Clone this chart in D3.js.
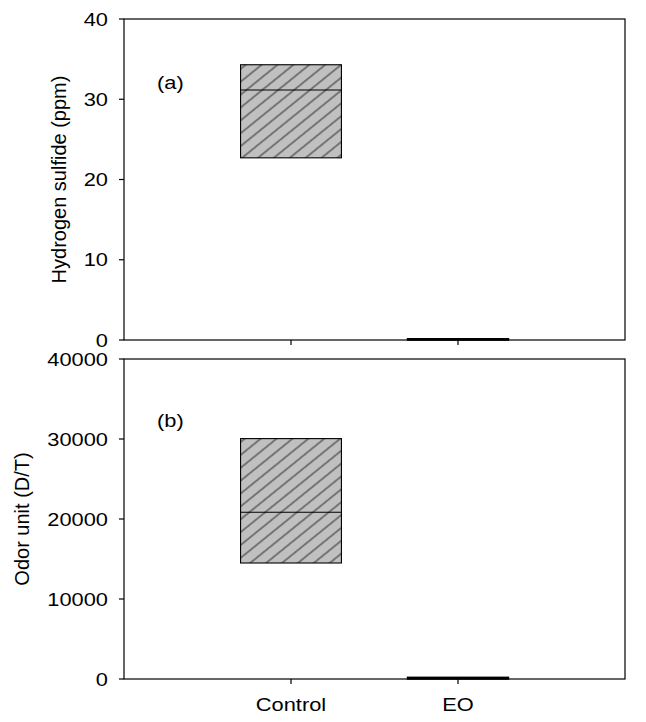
<!DOCTYPE html>
<html>
<head>
<meta charset="utf-8">
<script src="https://cdn.jsdelivr.net/npm/d3@7/dist/d3.min.js"></script>
<style>
  html, body { margin: 0; padding: 0; background: #fff; }
  svg { display: block; }
  text { font-family: "Liberation Sans", Arial, sans-serif; fill: #000; }
</style>
</head>
<body>
<svg id="chart" width="646" height="722"></svg>
<script>
// ---- data ----
const categories = ["Control", "EO"];
// box stats per category: [q1, median, q3]
const h2sQ1 = [22.7, 0.0];
const h2sMedian = [31.15, 0.05];
const h2sQ3 = [34.3, 0.15];
const odorQ1 = [14500, 0];
const odorMedian = [20850, 80];
const odorQ3 = [30050, 200];
const h2sTicks = [0, 10, 20, 30, 40];
const odorTicks = [0, 10000, 20000, 30000, 40000];
const panelLabels = ["(a)", "(b)"];
const yTitles = ["Hydrogen sulfide (ppm)", "Odor unit (D/T)"];

const svg = d3.select("#chart");
const STRETCH = 1.18;
const FS = 18.5;

// hatch pattern
const defs = svg.append("defs");
const pat = defs.append("pattern")
  .attr("id", "hatch")
  .attr("patternUnits", "userSpaceOnUse")
  .attr("width", 10).attr("height", 10)
  .attr("patternTransform", "rotate(-39)");
pat.append("rect").attr("width", 10).attr("height", 10).attr("fill", "#c0c0c0");
pat.append("line").attr("x1", 0).attr("x2", 10).attr("y1", 5).attr("y2", 5)
  .attr("stroke", "#2a2a2a").attr("stroke-width", 1);

const left = 124, right = 625;
const x = d3.scaleLinear().domain([0, categories.length + 1]).range([left, right]);
const halfW = 0.302;

const panels = [
  { top: 19, bottom: 340, max: 40, ticks: h2sTicks, q1: h2sQ1, med: h2sMedian, q3: h2sQ3,
    label: panelLabels[0], labelY: 88.5, title: yTitles[0], titleX: 66, xLabels: false },
  { top: 359, bottom: 679, max: 40000, ticks: odorTicks, q1: odorQ1, med: odorMedian, q3: odorQ3,
    label: panelLabels[1], labelY: 427, title: yTitles[1], titleX: 29, xLabels: true }
];

function stretchedText(g, tx, ty, str, anchor) {
  return g.append("text")
    .attr("transform", `translate(${tx},${ty}) scale(${STRETCH},1)`)
    .attr("text-anchor", anchor)
    .style("font-size", FS + "px")
    .text(str);
}

panels.forEach(p => {
  const y = d3.scaleLinear().domain([0, p.max]).range([p.bottom, p.top]);
  const g = svg.append("g");

  // boxes
  categories.forEach((c, i) => {
    const cx = x(i + 1);
    const x0 = x(i + 1 - halfW), x1 = x(i + 1 + halfW);
    const yTop = y(p.q3[i]), yBot = y(p.q1[i]);
    g.append("rect")
      .attr("x", x0).attr("y", yTop)
      .attr("width", x1 - x0).attr("height", Math.max(yBot - yTop, 0.5))
      .attr("fill", "url(#hatch)")
      .attr("stroke", "#000").attr("stroke-width", i === 1 ? 1.6 : 1.1);
    g.append("line")
      .attr("x1", x0).attr("x2", x1)
      .attr("y1", y(p.med[i])).attr("y2", y(p.med[i]))
      .attr("stroke", "#000").attr("stroke-width", 1.1);
  });

  // frame
  g.append("rect")
    .attr("x", left).attr("y", p.top)
    .attr("width", right - left).attr("height", p.bottom - p.top)
    .attr("fill", "none").attr("stroke", "#000").attr("stroke-width", 1.2);

  // y axis ticks
  p.ticks.forEach(t => {
    g.append("line")
      .attr("x1", left - 5).attr("x2", left)
      .attr("y1", y(t)).attr("y2", y(t))
      .attr("stroke", "#000").attr("stroke-width", 1.2);
    stretchedText(g, 108, y(t) + 6.5, d3.format("d")(t), "end");
  });

  // x ticks
  categories.forEach((c, i) => {
    g.append("line")
      .attr("x1", x(i + 1)).attr("x2", x(i + 1))
      .attr("y1", p.bottom).attr("y2", p.bottom + 5)
      .attr("stroke", "#000").attr("stroke-width", 1.2);
    if (p.xLabels) stretchedText(g, x(i + 1), 711, c, "middle");
  });

  // panel label
  stretchedText(g, 157, p.labelY, p.label, "start");

  // y title
  g.append("text")
    .attr("transform", `translate(${p.titleX},${(p.top + p.bottom) / 2}) rotate(-90)`)
    .attr("text-anchor", "middle")
    .style("font-size", "20px")
    .text(p.title);
});
</script>
</body>
</html>
